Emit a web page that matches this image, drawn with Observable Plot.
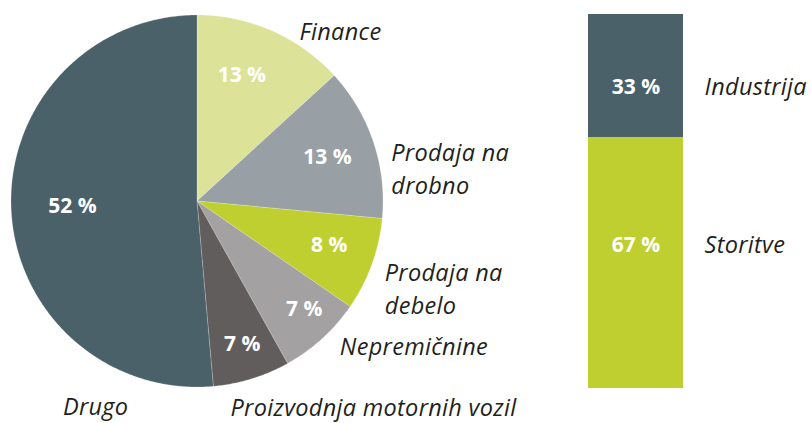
<!DOCTYPE html>
<html>
<head>
<meta charset="utf-8">
<script src="https://cdn.jsdelivr.net/npm/d3@7"></script>
<script src="https://cdn.jsdelivr.net/npm/@observablehq/plot@0.6"></script>
<style>
  html, body { margin: 0; padding: 0; background: #fff; }
  #wrap { display: flex; width: 811px; height: 423px; overflow: hidden; }
  #wrap svg { background: transparent; overflow: visible; }
  .cap text { letter-spacing: 0.3px; }
</style>
</head>
<body>
<div id="wrap"></div>
<script>
// ---- Data ----
const pieNames = ["Finance", "Prodaja na drobno", "Prodaja na debelo", "Nepremičnine", "Proizvodnja motornih vozil", "Drugo"];
const pieValues = [13.2, 13.3, 8.1, 7.3, 6.7, 51.4];
const pieLabels = ["13 %", "13 %", "8 %", "7 %", "7 %", "52 %"];
const pieCaptions = ["Finance", "Prodaja na\ndrobno", "Prodaja na\ndebelo", "Nepremičnine", "Proizvodnja motornih vozil", "Drugo"];

const sectorNames = ["Industrija", "Storitve"];
const sectorValues = [33, 67];
const sectorLabels = ["33 %", "67 %"];

// ---- Styles / layout ----
const pieColors = ["#dce398", "#989fa5", "#bfcf30", "#a3a1a1", "#625d5d", "#4a6169"];
const sectorColors = ["#4a6169", "#bfcf30"];
const textColor = "#231f20";
const labelFont = "'Open Sans', sans-serif";
const capSize = 23.5;
// inner label placement: angle offset from slice middle (deg), radius factor
const innerPlace = [[-4.2, 0.72], [0, 0.74], [-1.5, 0.75], [-2.4, 0.82], [-0.4, 0.81], [0, 0.67]];
// outer caption placement: angle offset (deg), radius factor, anchor
const outerPlace = [[7.1, 1.074, "start"], [8.7, 1.06, "start"], [4.6, 1.11, "start"], [-2.5, 1.09, "start"], [7.8, 1.114, "start"], [-61, 1.222, "middle"]];
const sectorLabelShift = [-3, 4.7];

// ---- Pie geometry from data ----
const pieData = pieNames.map((name, i) => ({name, value: pieValues[i], label: pieLabels[i], caption: pieCaptions[i], i}));
const arcs = d3.pie().sort(null).value(d => d.value)(pieData);
const polyPoints = [];
arcs.forEach(a => {
  const name = a.data.name;
  polyPoints.push({name, x: 0, y: 0});
  const n = Math.max(2, Math.ceil((a.endAngle - a.startAngle) / (Math.PI / 360)));
  for (let k = 0; k <= n; k++) {
    const t = a.startAngle + (a.endAngle - a.startAngle) * k / n;
    polyPoints.push({name, x: Math.sin(t), y: Math.cos(t)});
  }
  polyPoints.push({name, x: 0, y: 0});
});
const inner = arcs.map(a => {
  const [dAng, r] = innerPlace[a.data.i];
  const t = (a.startAngle + a.endAngle) / 2 + dAng * Math.PI / 180;
  return {label: a.data.label, x: r * Math.sin(t), y: r * Math.cos(t)};
});
const outer = arcs.map(a => {
  const [dAng, r, anchor] = outerPlace[a.data.i];
  const t = (a.startAngle + a.endAngle) / 2 + dAng * Math.PI / 180;
  return {caption: a.data.caption, anchor, x: r * Math.sin(t), y: r * Math.cos(t)};
});

// pixel frame for pie: center (196.5,200.5), radius 186
const W1 = 560, H = 423, cx = 196.5, cy = 200.5, R = 186;
const pie = Plot.plot({
  width: W1, height: H,
  margin: 0,
  x: {domain: [-cx / R, (W1 - cx) / R], axis: null},
  y: {domain: [-(H - cy) / R, cy / R], axis: null},
  color: {domain: pieNames, range: pieColors},
  style: {background: "transparent"},
  marks: [
    Plot.line(polyPoints, {x: "x", y: "y", z: "name", fill: "name", stroke: "#ffffff", strokeWidth: 0.4, strokeOpacity: 0.5, curve: "linear"}),
    Plot.text(inner, {x: "x", y: "y", text: "label", fill: "white", fontWeight: "bold", fontSize: 21, fontFamily: labelFont}),
    Plot.text(outer.filter(d => d.anchor === "start"), {x: "x", y: "y", text: "caption", fill: textColor, fontStyle: "italic", fontSize: capSize, fontFamily: labelFont, textAnchor: "start", lineHeight: 1.39, className: "cap"}),
    Plot.text(outer.filter(d => d.anchor === "middle"), {x: "x", y: "y", text: "caption", fill: textColor, fontStyle: "italic", fontSize: capSize, fontFamily: labelFont, textAnchor: "middle", lineHeight: 1.39, className: "cap"})
  ]
});

// ---- Stacked bar ----
const sectors = sectorNames.map((name, i) => ({name, value: sectorValues[i], label: sectorLabels[i], group: "Sektor", i}));
const stackOrder = ["Storitve", "Industrija"];
let acc = 0;
const sectorMid = {};
stackOrder.forEach(n => { const v = sectors.find(s => s.name === n).value; sectorMid[n] = acc + v / 2; acc += v; });

const W2 = 811 - W1;
const bar = Plot.plot({
  width: W2, height: H,
  marginLeft: 28, marginRight: 128, marginTop: 14, marginBottom: 35,
  x: {type: "band", domain: ["Sektor"], padding: 0, axis: null},
  y: {domain: [0, 100], axis: null},
  color: {domain: sectorNames, range: sectorColors},
  style: {background: "transparent"},
  marks: [
    Plot.barY(sectors, Plot.stackY({x: "group", y: "value", fill: "name", order: stackOrder, inset: 0})),
    Plot.text(sectors, {x: "group", y: d => sectorMid[d.name] + sectorLabelShift[d.i], text: "label", fill: "white", fontWeight: "bold", fontSize: 21, fontFamily: labelFont}),
    Plot.text(sectors, {x: "group", y: d => sectorMid[d.name] + sectorLabelShift[d.i], text: "name", dx: 68.5, textAnchor: "start", fill: textColor, fontStyle: "italic", fontSize: capSize, fontFamily: labelFont, className: "cap"})
  ]
});

const wrap = document.getElementById("wrap");
wrap.appendChild(pie);
wrap.appendChild(bar);
</script>
</body>
</html>
